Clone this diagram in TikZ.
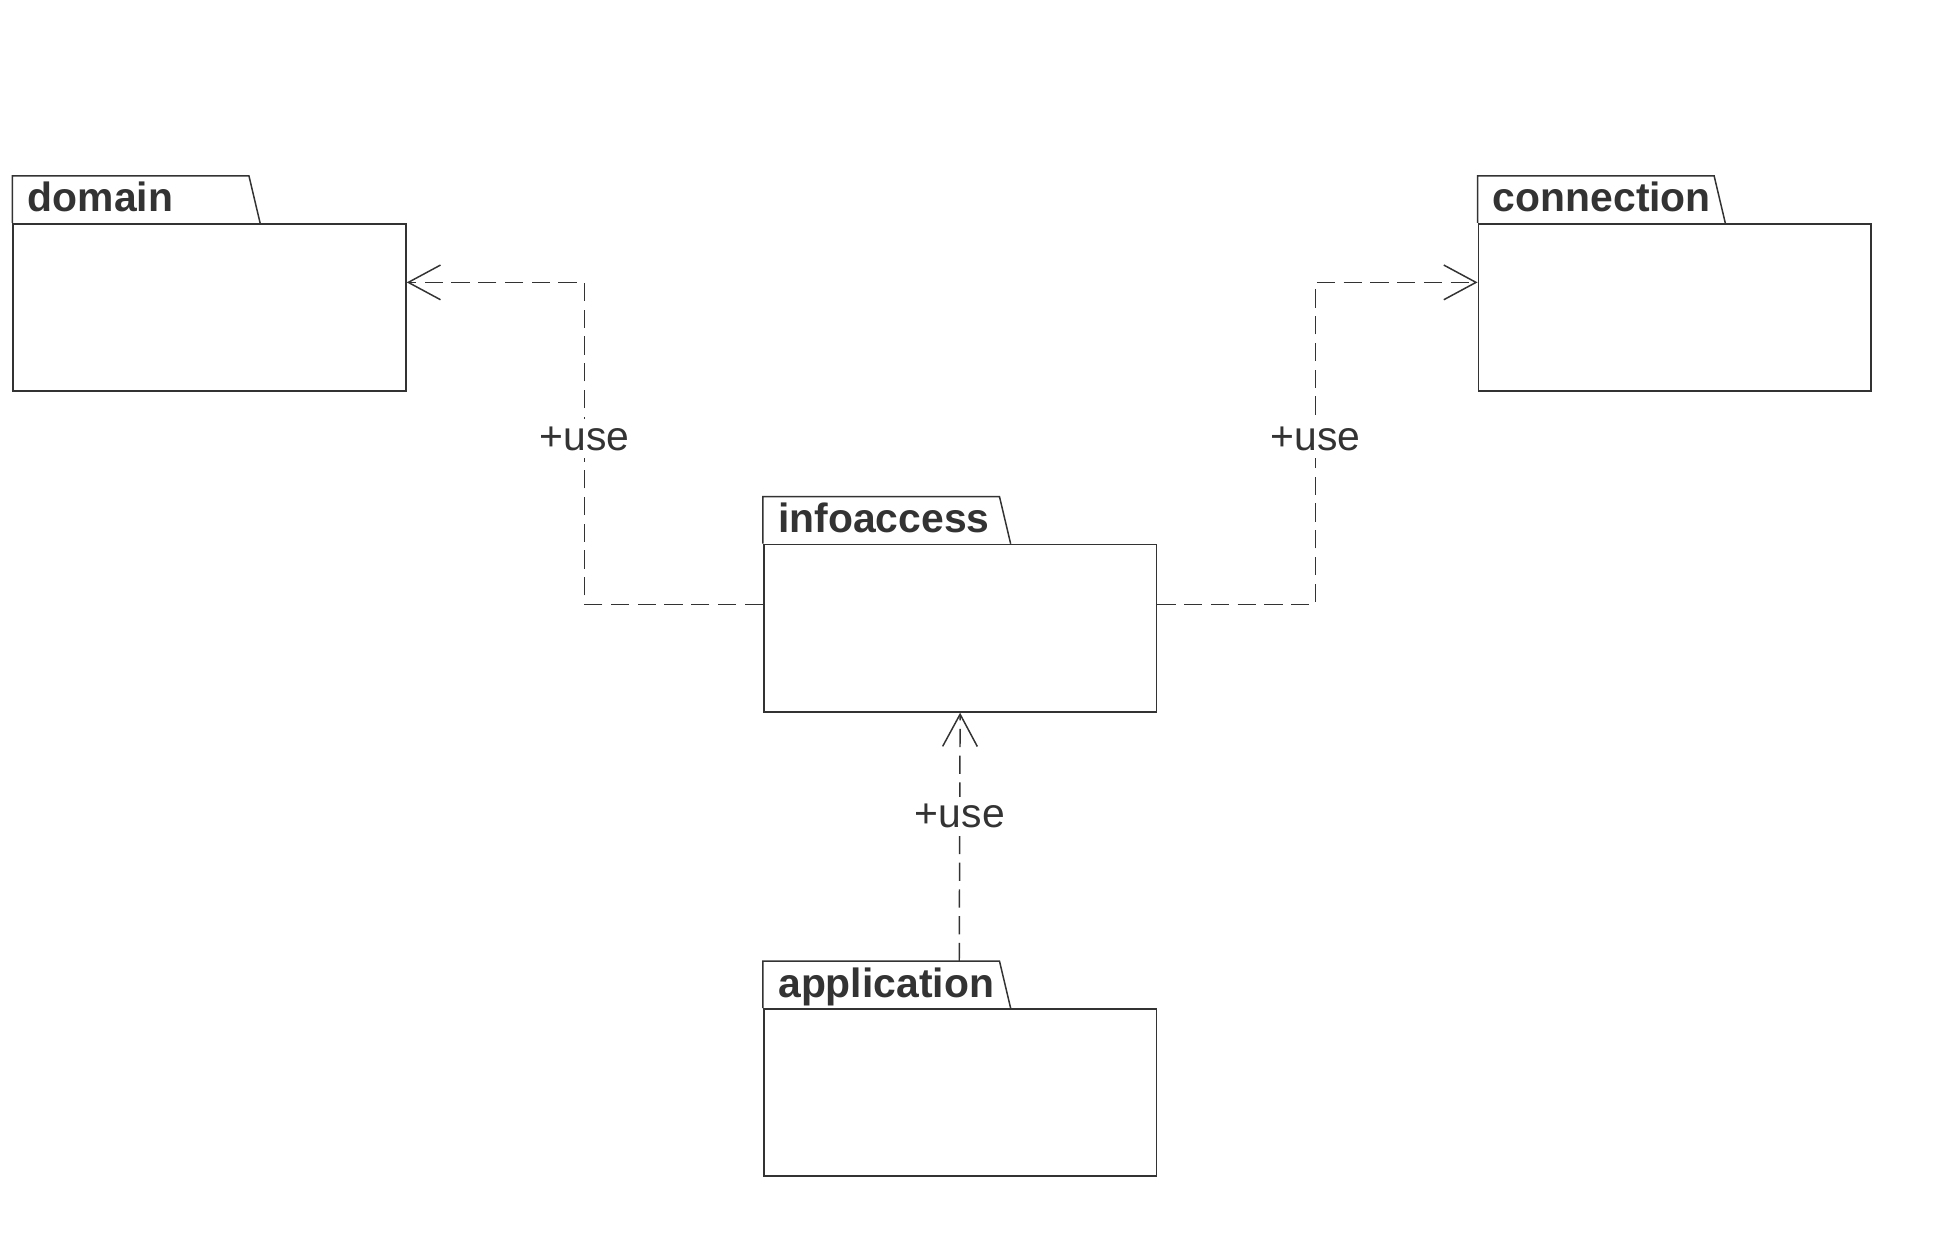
\documentclass[tikz,border=0pt]{standalone}
\usepackage{fontspec}
\setmainfont{Liberation Sans}
\usetikzlibrary{arrows.meta,calc}
\definecolor{ink}{HTML}{333333}
\tikzset{
 pkg/.style={draw=ink, line width=0.7pt, minimum width=158.5pt, minimum height=67.5pt, anchor=north west, inner sep=0pt, fill=white},
 tabline/.style={draw=ink, line width=0.6pt},
 pkgname/.style={anchor=base west, font=\bfseries\fontsize{16.5}{18}\selectfont, text=ink, inner sep=0pt},
 dep/.style={draw=ink, line width=0.6pt, dash pattern=on 7.4pt off 3.4pt, -{Straight Barb[length=13pt,width=14pt]}},
 lbl/.style={font=\fontsize{16.5}{18}\selectfont, text=ink, fill=white, inner sep=3pt}
}
\begin{document}
\begin{tikzpicture}[x=0.5pt,y=-0.5pt]
\useasboundingbox (0,0) rectangle (1568,1008);
% packages
\node[pkg] (domain) at (10,180) {};
\node[pkg] (connection) at (1193,180) {};
\node[pkg] (infoaccess) at (616,439) {};
\node[pkg] (application) at (616,814) {};
% tabs
\foreach \p in {domain,connection,infoaccess,application}{
  \draw[tabline] (\p.north west) -- ++(0,-38) -- ++(191,0) -- ($(\p.north west)+(200,0)$);
}
\node[pkgname] (domainlbl) at (22,171) {domain};
\node[pkgname] (connectionlbl) at (1205,171) {connection};
\node[pkgname] (infoaccesslbl) at (628,430) {infoaccess};
\node[pkgname] (applicationlbl) at (628,805) {application};
% connectors
\coordinate (ial) at ($(infoaccess.north west)+(0,49)$);
\coordinate (iar) at ($(infoaccess.north east)+(0,49)$);
\coordinate (domr) at ($(domain.north east)+(0,48)$);
\coordinate (conl) at ($(connection.north west)+(0,48)$);
\coordinate (apptop) at ($(application.north west)+(158.5,-38)$);
\draw[dep] (ial) -| (472,228) -- (domr);
\draw[dep] (iar) -| (1062,228) -- (conl);
\draw[dep] (apptop) -- (infoaccess.south);
\node[lbl] (use1) at (472,354) {+use};
\node[lbl] (use2) at (1062,354) {+use};
\node[lbl] (use3) at (775,659) {+use};
\end{tikzpicture}
\end{document}
